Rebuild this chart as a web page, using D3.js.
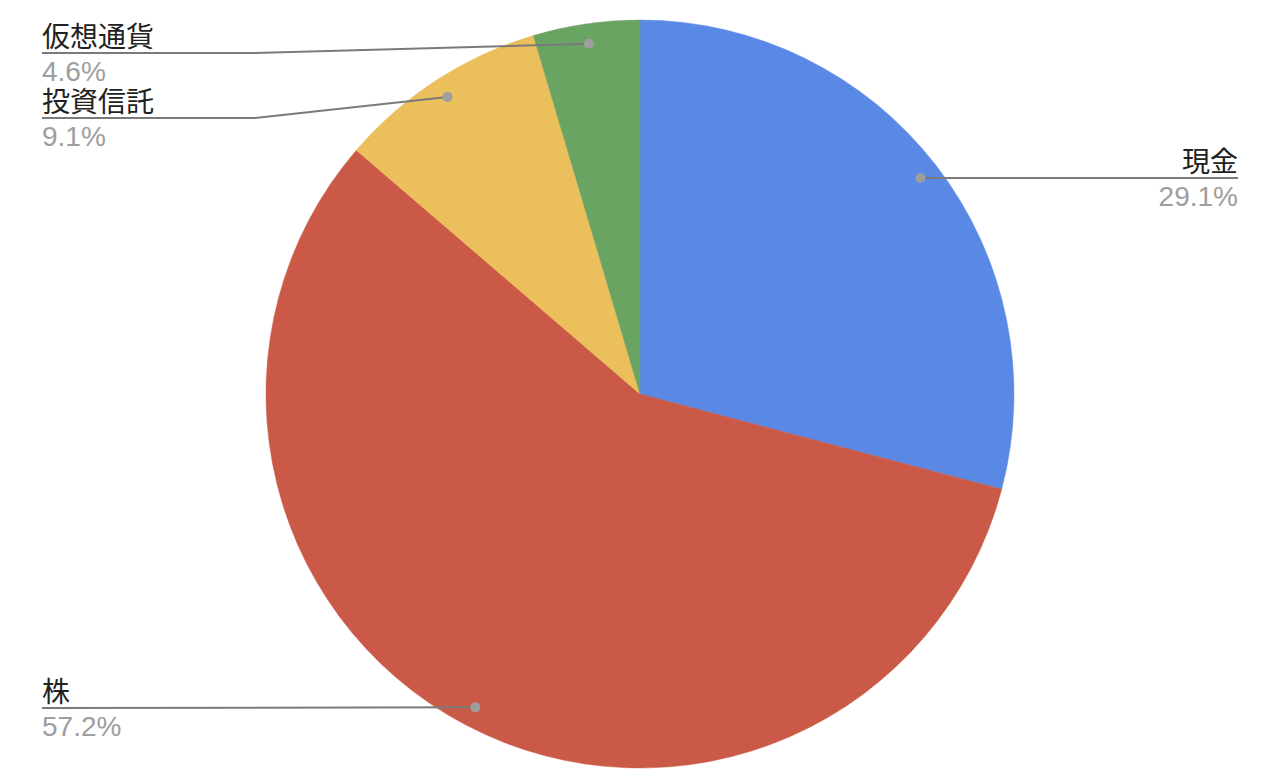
<!DOCTYPE html>
<html>
<head>
<meta charset="utf-8">
<script src="https://cdn.jsdelivr.net/npm/d3@7"></script>
<style>
  body { margin: 0; background: #fff; }
  svg { display: block; }
</style>
</head>
<body>
<svg id="chart" width="1274" height="780"></svg>
<script>
    /*
    Chart data: asset allocation, in slice order (clockwise from 12 o'clock)
     */
    var categories = ["現金", "株", "投資信託", "仮想通貨"];
    var values = [29.1, 57.2, 9.1, 4.6];
    var colors = ["#5a89e5", "#cb5947", "#eabf5c", "#6aa463"];

    /*
    Label placement: side of the chart and the y of the leader line
     */
    var labelSide = ["right", "left", "left", "left"];
    var labelLineY = [178, 708, 118, 53];

    var width = 1274, height = 780;
    var cx = 640, cy = 394, radius = 374;
    var dotRadius = 354;

    var svg = d3.select("#chart");
    var g = svg.append("g").attr("transform", "translate(" + cx + "," + cy + ")");

    var data = categories.map(function(c, i){
        return {name: c, value: values[i], color: colors[i], side: labelSide[i], lineY: labelLineY[i]};
    });

    var total = d3.sum(values);

    var pie = d3.pie()
        .value(function(d){ return d.value; })
        .sort(null);

    var arc = d3.arc()
        .innerRadius(0)
        .outerRadius(radius);

    var arcs = pie(data);

    g.selectAll("path.slice")
        .data(arcs)
        .enter().append("path")
        .attr("class", "slice")
        .attr("d", arc)
        .attr("fill", function(d){ return d.data.color; })
        .attr("stroke", function(d){ return d.data.color; })
        .attr("stroke-width", 0.5);

    /*
    Leader lines + dots. The dot sits on the slice's middle angle,
    then the line goes to an elbow and runs flat to the label edge.
     */
    var leftX = 42, rightX = 1238, elbowX = 255;

    function dotPos(d){
        var a = (d.startAngle + d.endAngle) / 2;
        return [cx + dotRadius * Math.sin(a), cy - dotRadius * Math.cos(a)];
    }

    var labels = svg.append("g");

    arcs.forEach(function(d){
        var p = dotPos(d);
        var ly = d.data.lineY;
        var pts;
        if(d.data.side == "right"){
            pts = [p, [rightX, ly]];
        }
        else if(Math.abs(p[1] - ly) < 2){
            pts = [p, [leftX, ly]];
        }
        else{
            pts = [p, [elbowX, ly], [leftX, ly]];
        }

        labels.append("path")
            .attr("d", d3.line()(pts))
            .attr("fill", "none")
            .attr("stroke", "#7a7a7a")
            .attr("stroke-width", 2);

        labels.append("circle")
            .attr("cx", p[0])
            .attr("cy", p[1])
            .attr("r", 5)
            .attr("fill", "#9e9e9e");

        var tx = d.data.side == "right" ? rightX : leftX;
        var anchor = d.data.side == "right" ? "end" : "start";

        labels.append("text")
            .attr("x", tx)
            .attr("y", ly - 6)
            .attr("text-anchor", anchor)
            .attr("font-family", "'Noto Sans CJK JP', 'Noto Sans', sans-serif")
            .attr("font-size", 28)
            .attr("fill", "#222")
            .text(d.data.name);

        labels.append("text")
            .attr("x", tx)
            .attr("y", ly + 28)
            .attr("text-anchor", anchor)
            .attr("font-family", "'Liberation Sans', Arial, sans-serif")
            .attr("font-size", 28)
            .attr("fill", "#9e9e9e")
            .text(d3.format(".1f")(d.data.value / total * 100) + "%");
    });
</script>
</body>
</html>
